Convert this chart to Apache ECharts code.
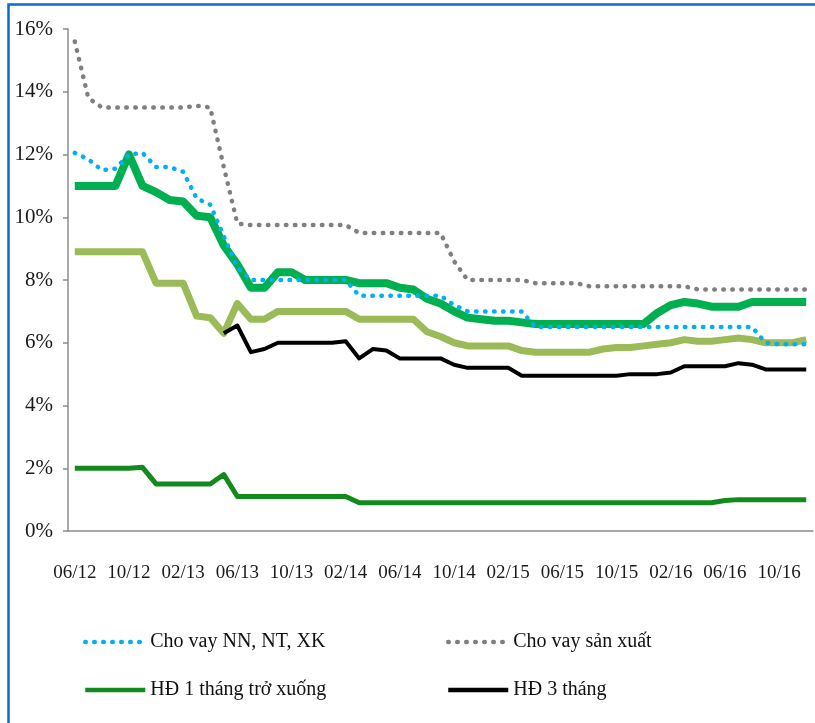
<!DOCTYPE html>
<html>
  <head>
    <meta charset="utf-8" />
    <title>Lãi suất</title>
    <script src="https://cdn.jsdelivr.net/npm/echarts@6/dist/echarts.min.js"></script>
    <style type="text/css">
      * {
        margin: 0px;
        padding: 0px;
      }
      body {
        background-color: #fff;
        overflow: hidden;
      }
    </style>
  </head>
  <body>
    <div id="main" style="width: 815px; height: 723px"></div>
  </body>
</html>
<script>
  // tháng (06/12 -> 12/16)
  const months = [
    "06/12", "07/12", "08/12", "09/12", "10/12", "11/12", "12/12",
    "01/13", "02/13", "03/13", "04/13", "05/13", "06/13", "07/13", "08/13", "09/13", "10/13", "11/13", "12/13",
    "01/14", "02/14", "03/14", "04/14", "05/14", "06/14", "07/14", "08/14", "09/14", "10/14", "11/14", "12/14",
    "01/15", "02/15", "03/15", "04/15", "05/15", "06/15", "07/15", "08/15", "09/15", "10/15", "11/15", "12/15",
    "01/16", "02/16", "03/16", "04/16", "05/16", "06/16", "07/16", "08/16", "09/16", "10/16", "11/16", "12/16"
  ];
  const yTicks = [0, 2, 4, 6, 8, 10, 12, 14, 16];

  // Cho vay NN, NT, XK (%)
  const choVayNN = [
    12.05, 11.85, 11.5, 11.55, 12.0, 12.05, 11.6, 11.6, 11.45, 10.6, 10.4, 9.4, 8.4, 8.0,
    8.0, 8.0, 8.0, 8.0, 8.0, 8.0, 8.0,
    7.5, 7.5, 7.5, 7.5, 7.5, 7.5, 7.5,
    7.2, 7.0, 7.0, 7.0, 7.0, 7.0,
    6.5, 6.5, 6.5, 6.5, 6.5, 6.5, 6.5, 6.5, 6.5, 6.5, 6.5, 6.5, 6.5, 6.5, 6.5, 6.5, 6.5,
    6.0, 5.95, 5.95, 5.95
  ];
  // Cho vay sản xuất (%)
  const choVaySX = [
    15.6, 13.8, 13.5, 13.5, 13.5, 13.5, 13.5, 13.5, 13.5, 13.55, 13.5,
    11.6, 9.8,
    9.75, 9.75, 9.75, 9.75, 9.75, 9.75, 9.75, 9.75,
    9.5, 9.5, 9.5, 9.5, 9.5, 9.5, 9.5,
    8.6, 8.0, 8.0, 8.0, 8.0, 8.0,
    7.9, 7.9, 7.9, 7.9,
    7.8, 7.8, 7.8, 7.8, 7.8, 7.8, 7.8, 7.8,
    7.7, 7.7, 7.7, 7.7, 7.7, 7.7, 7.7, 7.7, 7.7
  ];
  // HĐ 1 tháng trở xuống (%)
  const hd1Thang = [
    2.0, 2.0, 2.0, 2.0, 2.0, 2.03,
    1.5, 1.5, 1.5, 1.5, 1.5,
    1.8, 1.1,
    1.1, 1.1, 1.1, 1.1, 1.1, 1.1, 1.1, 1.1,
    0.9, 0.9, 0.9, 0.9, 0.9, 0.9, 0.9, 0.9, 0.9, 0.9, 0.9, 0.9, 0.9, 0.9,
    0.9, 0.9, 0.9, 0.9, 0.9, 0.9, 0.9, 0.9, 0.9, 0.9, 0.9, 0.9, 0.9,
    0.97, 1.0, 1.0, 1.0, 1.0, 1.0, 1.0
  ];
  // HĐ 3 tháng (%), bắt đầu từ 05/13
  const hd3Thang = [
    null, null, null, null, null, null, null, null, null, null, null,
    6.3, 6.55, 5.7, 5.8,
    6.0, 6.0, 6.0, 6.0, 6.0, 6.05,
    5.5, 5.8, 5.75,
    5.5, 5.5, 5.5, 5.5,
    5.3, 5.2, 5.2, 5.2, 5.2,
    4.95, 4.95, 4.95, 4.95, 4.95, 4.95, 4.95, 4.95,
    5.0, 5.0, 5.0, 5.05,
    5.25, 5.25, 5.25, 5.25, 5.35, 5.3,
    5.15, 5.15, 5.15, 5.15
  ];
  // hai đường không có chú thích
  const hd6Thang = [
    8.9, 8.9, 8.9, 8.9, 8.9, 8.9,
    7.9, 7.9, 7.9,
    6.85, 6.8, 6.3, 7.25, 6.75, 6.75,
    7.0, 7.0, 7.0, 7.0, 7.0, 7.0,
    6.75, 6.75, 6.75, 6.75, 6.75,
    6.35, 6.2, 6.0,
    5.9, 5.9, 5.9, 5.9,
    5.75, 5.7, 5.7, 5.7, 5.7, 5.7,
    5.8, 5.85, 5.85, 5.9, 5.95, 6.0, 6.1, 6.05, 6.05, 6.1, 6.15, 6.1, 6.0, 6.0, 6.0, 6.1
  ];
  const hd12Thang = [
    11.0, 11.0, 11.0, 11.0, 12.0, 11.0, 10.8, 10.55, 10.5, 10.05, 10.0,
    9.1, 8.5, 7.75, 7.75, 8.25, 8.25,
    8.0, 8.0, 8.0, 8.0,
    7.9, 7.9, 7.9, 7.75, 7.7, 7.4, 7.25, 7.0, 6.8, 6.75, 6.7, 6.7, 6.65,
    6.6, 6.6, 6.6, 6.6, 6.6, 6.6, 6.6, 6.6, 6.6,
    6.95, 7.2, 7.3, 7.25, 7.15, 7.15, 7.15, 7.3,
    7.3, 7.3, 7.3, 7.3
  ];

  const serif = "Liberation Serif";
  const dots = [0.5, 8.5];

  let myChart = echarts.init(document.getElementById("main"));

  // chú thích: chỉ có đường, không có ký hiệu
  let legendBase = {
    orient: "vertical",
    top: 627,
    itemWidth: 60,
    itemHeight: 14,
    itemGap: 28,
    itemStyle: { opacity: 0 },
    lineStyle: { width: 4.5 },
    textStyle: { fontFamily: serif, fontSize: 20, lineHeight: 20, color: "#111" }
  };

  let option = {
    animation: false,
    backgroundColor: "#fff",
    graphic: [
      {
        type: "rect",
        silent: true,
        shape: { x: 8.5, y: 4.5, width: 830, height: 740 },
        style: { fill: null, stroke: "#0a6fc2", lineWidth: 2.5 }
      }
    ],
    grid: {
      left: 68,
      right: 2,
      top: 29,
      bottom: 192
    },
    xAxis: {
      type: "category",
      data: months,
      boundaryGap: true,
      axisLine: { lineStyle: { color: "#8c8c8c", width: 1.5 } },
      axisTick: { interval: 3, length: 7, lineStyle: { color: "#8c8c8c", width: 1.5 } },
      axisLabel: {
        interval: 3,
        margin: 33,
        fontFamily: serif,
        fontSize: 19,
        color: "#1a1a1a"
      },
      splitLine: { show: false }
    },
    yAxis: {
      type: "value",
      min: yTicks[0],
      max: yTicks[yTicks.length - 1],
      interval: 2,
      axisLine: { show: true, lineStyle: { color: "#8c8c8c", width: 1.5 } },
      axisTick: { show: true, length: 5, lineStyle: { color: "#8c8c8c", width: 1.5 } },
      axisLabel: {
        formatter: "{value}%",
        margin: 15,
        fontFamily: serif,
        fontSize: 21,
        color: "#1a1a1a"
      },
      splitLine: { show: false }
    },
    legend: [
      Object.assign({}, legendBase, {
        data: ["Cho vay NN, NT, XK", "HĐ 1 tháng trở xuống"],
        left: 78
      }),
      Object.assign({}, legendBase, {
        data: ["Cho vay sản xuất", "HĐ 3 tháng"],
        left: 441
      })
    ],
    series: [
      {
        name: "HĐ 12 tháng",
        type: "line",
        data: hd12Thang,
        symbol: "none",
        lineStyle: { color: "#00b050", width: 8, join: "round" }
      },
      {
        name: "HĐ 6 tháng",
        type: "line",
        data: hd6Thang,
        symbol: "none",
        lineStyle: { color: "#9bbb59", width: 7, join: "round" }
      },
      {
        name: "Cho vay NN, NT, XK",
        type: "line",
        data: choVayNN,
        symbol: "none",
        itemStyle: { color: "#00b0f0" },
        lineStyle: { color: "#00b0f0", width: 4.5, type: dots, cap: "round" }
      },
      {
        name: "Cho vay sản xuất",
        type: "line",
        data: choVaySX,
        symbol: "none",
        itemStyle: { color: "#7f7f7f" },
        lineStyle: { color: "#7f7f7f", width: 4.5, type: dots, cap: "round" }
      },
      {
        name: "HĐ 1 tháng trở xuống",
        type: "line",
        data: hd1Thang,
        symbol: "none",
        itemStyle: { color: "#138a1e" },
        lineStyle: { color: "#138a1e", width: 5, join: "round" }
      },
      {
        name: "HĐ 3 tháng",
        type: "line",
        data: hd3Thang,
        symbol: "none",
        itemStyle: { color: "#000" },
        lineStyle: { color: "#000", width: 4, join: "round" }
      }
    ]
  };

  myChart.setOption(option);
</script>
